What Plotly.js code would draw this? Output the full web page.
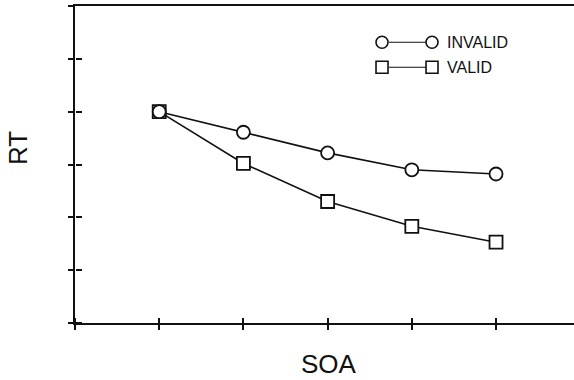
<!DOCTYPE html>
<html>
<head>
<meta charset="utf-8">
<script src="https://cdn.plot.ly/plotly-3.0.1.min.js"></script>
<style>html,body{margin:0;padding:0;background:#fff;}#chart{width:574px;height:380px;}</style>
</head>
<body>
<div id="chart"></div>
<script>
// SOA levels (unlabelled in the original)
var soa = [1, 2, 3, 4, 5];
// RT in arbitrary tick units (axis unlabelled)
var rtInvalid = [4.0, 3.61, 3.22, 2.90, 2.82];
var rtValid   = [4.0, 3.02, 2.30, 1.83, 1.53];
var seriesNames = ['INVALID', 'VALID'];
var xTicks = [0, 1, 2, 3, 4, 5];
var yTicks = [0, 1, 2, 3, 4, 5, 6];

var xr = [0, 5.926];
var yr = [0, 6];

var valid = {
  x: soa, y: rtValid, name: seriesNames[1], type: 'scatter', mode: 'lines+markers',
  xaxis: 'x', yaxis: 'y',
  line: {color: '#111', width: 1.6},
  marker: {symbol: 'square', size: 13, color: '#fff', line: {color: '#111', width: 1.8}},
  hoverinfo: 'skip'
};
var invalid = {
  x: soa, y: rtInvalid, name: seriesNames[0], type: 'scatter', mode: 'lines+markers',
  xaxis: 'x2', yaxis: 'y2',
  line: {color: '#111', width: 1.6},
  marker: {symbol: 'circle', size: 13, color: '#fff', line: {color: '#111', width: 1.8}},
  hoverinfo: 'skip'
};

// legend glyph positions in data units
function lx(px){ return (px - 75) / 84.2; }
function ly(py){ return (323.3 - py) / 52.8; }
var shapes = [];
var rows = [{py: 42.7, sym: 'circle'}, {py: 67.7, sym: 'square'}];
rows.forEach(function(r){
  var yc = ly(r.py);
  [382, 432].forEach(function(px){
    var h = 6 / 84.2, v = 6 / 52.8;
    shapes.push({type: r.sym === 'circle' ? 'circle' : 'rect', xref: 'x', yref: 'y',
      x0: lx(px) - h, x1: lx(px) + h, y0: yc - v, y1: yc + v,
      line: {color: '#111', width: 1.6}, fillcolor: '#fff'});
  });
  shapes.push({type: 'line', xref: 'x', yref: 'y', x0: lx(389), x1: lx(426), y0: yc, y1: yc,
    line: {color: '#111', width: 1.1}});
});

var axBase = {range: xr, showgrid: false, zeroline: false, showticklabels: false,
  tickmode: 'array', tickvals: xTicks, ticklen: 5, tickwidth: 2, tickcolor: '#111', fixedrange: true};
var ayBase = {range: yr, showgrid: false, zeroline: false, showticklabels: false,
  tickmode: 'array', tickvals: yTicks, ticklen: 5, tickwidth: 2, tickcolor: '#111', fixedrange: true};

var layout = {
  width: 574, height: 380,
  margin: {l: 75, r: 0, t: 6, b: 57, pad: 0},
  paper_bgcolor: '#fff', plot_bgcolor: '#fff',
  showlegend: false,
  xaxis: Object.assign({}, axBase, {ticks: 'outside', showline: true, linecolor: '#111', linewidth: 1.6, mirror: true}),
  yaxis: Object.assign({}, ayBase, {ticks: 'outside', showline: true, linecolor: '#111', linewidth: 2}),
  xaxis2: Object.assign({}, axBase, {ticks: 'outside', overlaying: 'x', anchor: 'free', position: 0, side: 'top', showline: false, ticklen: 5}),
  yaxis2: Object.assign({}, ayBase, {ticks: 'outside', overlaying: 'y', anchor: 'free', position: 0, side: 'right', showline: false, tickvals: [0,1,2,3,4,5], ticklen: 6}),
  shapes: shapes,
  annotations: [
    {text: 'INVALID', xref: 'paper', yref: 'paper', x: (445 - 75) / 499, y: (323 - 42.7) / 317,
      xanchor: 'left', yanchor: 'middle', showarrow: false,
      font: {family: 'Liberation Sans, Arial, sans-serif', size: 16, color: '#111'}},
    {text: 'VALID', xref: 'paper', yref: 'paper', x: (445 - 75) / 499, y: (323 - 67.7) / 317,
      xanchor: 'left', yanchor: 'middle', showarrow: false,
      font: {family: 'Liberation Sans, Arial, sans-serif', size: 16, color: '#111'}},
    {text: 'RT', xref: 'paper', yref: 'paper', x: (18 - 75) / 499, y: (323 - 148) / 317,
      xanchor: 'center', yanchor: 'middle', textangle: -90, showarrow: false,
      font: {family: 'Liberation Sans, Arial, sans-serif', size: 26, color: '#111'}},
    {text: 'SOA', xref: 'paper', yref: 'paper', x: (328.5 - 75) / 499, y: (323 - 364) / 317,
      xanchor: 'center', yanchor: 'middle', showarrow: false,
      font: {family: 'Liberation Sans, Arial, sans-serif', size: 26, color: '#111'}}
  ]
};

Plotly.newPlot('chart', [valid, invalid], layout, {staticPlot: true, displayModeBar: false});
</script>
</body>
</html>
